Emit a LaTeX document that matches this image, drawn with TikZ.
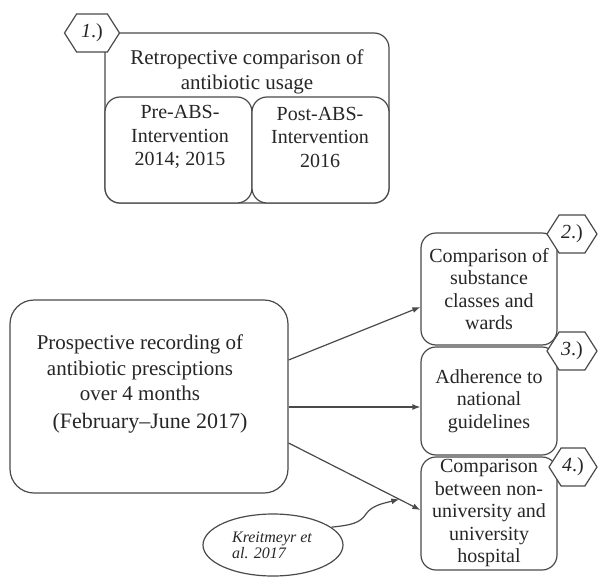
\documentclass[tikz,border=0pt]{standalone}
\usepackage{fontspec}
\setmainfont{Liberation Serif}
\usepackage{tikz}
\usetikzlibrary{shapes.geometric,shapes.symbols,arrows.meta}
\definecolor{LINECOL}{HTML}{4A4A4A}
\definecolor{TEXTCOL}{HTML}{262626}
\tikzset{
BOX/.style ={draw=LINECOL,fill=white,line width=0.6pt,rounded corners=#1,inner sep=0pt,text=TEXTCOL,align=center,font=\fontsize{10}{11.25}\selectfont},
BOX/.default = 7.5pt,
HEX/.style ={signal,signal to=west and east,signal pointer angle=115,draw=LINECOL,fill=white,line width=0.6pt,inner sep=0pt,minimum width=#1,minimum height=19pt,text=TEXTCOL,font=\fontsize{10}{12}\selectfont},
HEX/.default = 27.5pt,
TEXT/.style ={text=TEXTCOL,align=center,inner sep=0pt},
ARROW/.style ={draw=LINECOL,line width=0.6pt,-{Latex[length=4pt,width=3pt]}},
}

\begin{document}
\begin{tikzpicture}
[x=0.5pt, y=-0.5pt]
	\useasboundingbox (0,0) rectangle (600,578);
	\node[BOX, minimum width=142pt, minimum height=85pt] (RETRO) at (247,118) {};
	\node[TEXT, font=\fontsize{10.5}{12.5}\selectfont] (RETROTXT) at (247,72) {Retropective comparison of\\antibiotic usage};
	\node[BOX, minimum width=73.5pt, minimum height=53pt] (PRE) at (178.5,150) {};
	\node[BOX, minimum width=68.5pt, minimum height=53pt] (POST) at (320.5,150) {};
	\node[TEXT, font=\fontsize{10}{11.75}\selectfont] (PRETXT) at (180,137) {Pre-ABS-\\Intervention\\2014; 2015};
	\node[TEXT, font=\fontsize{10}{11.75}\selectfont] (POSTTXT) at (320,137) {Post-ABS-\\Intervention\\2016};
	\node[HEX] (HEXa) at (92,33) {\textit{1}.)};
	\node[BOX=12pt, minimum width=139pt, minimum height=96.5pt] (PROSP) at (149,396.5) {};
	\node[TEXT, font=\fontsize{10.5}{12.7}\selectfont] (PROSPTXT) at (140,368) {Prospective recording of\\antibiotic presciptions\\over 4 months};
	\node[TEXT, font=\fontsize{11}{13}\selectfont] (DATE) at (150,423) {(February--June 2017)};
	\node[BOX, minimum width=68pt, minimum height=56pt] (SUBST) at (489,289) {Comparison of\\substance\\classes and\\wards};
	\node[BOX, minimum width=68pt, minimum height=54pt] (ADHER) at (489,401) {Adherence to\\national\\guidelines};
	\node[BOX, minimum width=68pt, minimum height=56.5pt] (UNIV) at (489,513.5) {Comparison\\between non-\\university and\\university\\hospital};
	\node[HEX=25pt] (HEXb) at (572,234) {\textit{2}.)};
	\node[HEX=25pt] (HEXc) at (572,351) {\textit{3}.)};
	\node[HEX=24pt] (HEXd) at (573,467) {\textit{4}.)};
	\node[ellipse, draw=LINECOL, line width=0.6pt, minimum width=70pt, minimum height=31pt, inner sep=0pt] (KREIT) at (273,545) {};
	\node[TEXT, align=left, font=\fontsize{8}{8}\selectfont\itshape] (KREITTXT) at (272,545) {Kreitmeyr et\\al. 2017};
	\draw[ARROW] ([yshift=18.25pt]PROSP.east) -- ([yshift=-9pt]SUBST.west);
	\draw[ARROW] ([yshift=-5.25pt]PROSP.east) -- ([yshift=-3pt]ADHER.west);
	\draw[ARROW] ([yshift=-23.25pt]PROSP.east) -- coordinate[pos=0.84] (MEET) ([yshift=1.75pt]UNIV.west);
	\draw[ARROW] (KREIT.17) .. controls (352,525) and (360,523) .. (366,514)
	.. controls (372,505) and (385,503) .. (MEET);
\end{tikzpicture}
\end{document}
